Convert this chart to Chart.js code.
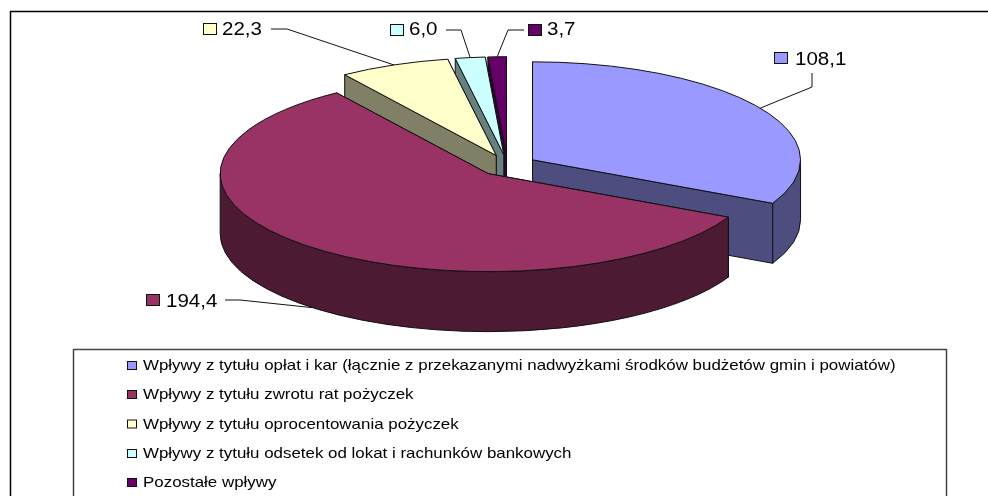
<!DOCTYPE html>
<html lang="pl">
<head>
    <meta charset="UTF-8">
    <title>Wpływy</title>
    <script src="https://cdn.jsdelivr.net/npm/chart.js"></script>
    <style>
        html, body { margin: 0; padding: 0; background: #fff; overflow: hidden; }
        canvas { display: block; }
    </style>
</head>
<body>
    <canvas id="pieChart" width="988" height="496"></canvas>
    <script>
        // Data
        var categories = [
            "Wpływy z tytułu opłat i kar (łącznie z przekazanymi nadwyżkami środków budżetów gmin i powiatów)",
            "Wpływy z tytułu zwrotu rat pożyczek",
            "Wpływy z tytułu oprocentowania pożyczek",
            "Wpływy z tytułu odsetek od lokat i rachunków bankowych",
            "Pozostałe wpływy"
        ];
        var seriesValues = [108.1, 194.4, 22.3, 6.0, 3.7];

        var sliceColors = ["#9999FF", "#993366", "#FFFFCC", "#CCFFFF", "#660066"];
        var wallColors = ["#4D4D80", "#4D1A33", "#808066", "#668080", "#330033"];

        // Look of the 3D pie
        var radiusX = 268;
        var radiusY = 98;
        var depth = 60;
        var explode = 0.11;
        var lineColor = "#111";
        var fontName = '"Liberation Sans", Arial, sans-serif';

        // Where the value labels and their leader lines sit
        var labelKeyX = [774, 146, 203, 390, 528];
        var labelKeyY = [52, 294, 23, 24, 24];
        var labelTextX = [795, 166, 222, 409, 547];
        var labelBaseline = [65, 307, 35, 35, 35];
        var leaderLines = [
            [[812, 73], [812, 87]],
            [[225, 300], [240, 300]],
            [[271, 29], [287, 29]],
            [[446, 30], [461, 30]],
            [[524, 30], [508, 30]]
        ];

        var legendBox = { left: 73.5, top: 349.5, right: 946.5 };
        var legendKeyX = 127.5;
        var legendTextX = 143;
        var legendBaselines = [370, 399, 428.5, 458, 487];

        function stretchedText(ctx, text, x, y, size, stretch) {
            ctx.save();
            ctx.translate(x, y);
            ctx.scale(stretch, 1);
            ctx.font = size + "px " + fontName;
            ctx.fillStyle = "#000";
            ctx.textBaseline = "alphabetic";
            ctx.fillText(text, 0, 0);
            ctx.restore();
        }

        // Centre of a slice once it is pulled out of the pie
        function sliceCentre(arc) {
            var mid = (arc.startAngle + arc.endAngle) / 2;
            return {
                x: arc.x + Math.cos(mid) * explode * radiusX,
                y: arc.y + Math.sin(mid) * explode * radiusY
            };
        }

        function edgeWall(ctx, c, angle) {
            var ex = c.x + Math.cos(angle) * radiusX;
            var ey = c.y + Math.sin(angle) * radiusY;
            ctx.beginPath();
            ctx.moveTo(c.x, c.y);
            ctx.lineTo(ex, ey);
            ctx.lineTo(ex, ey + depth);
            ctx.lineTo(c.x, c.y + depth);
            ctx.closePath();
            ctx.fill();
            ctx.stroke();
        }

        function drawSlice(ctx, arc, index) {
            var c = sliceCentre(arc);

            ctx.save();
            ctx.lineWidth = 1;
            ctx.lineJoin = "round";
            ctx.strokeStyle = lineColor;
            ctx.fillStyle = wallColors[index];
            // The edge that points further back goes first
            if (Math.sin(arc.startAngle) < Math.sin(arc.endAngle)) {
                edgeWall(ctx, c, arc.startAngle);
                edgeWall(ctx, c, arc.endAngle);
            } else {
                edgeWall(ctx, c, arc.endAngle);
                edgeWall(ctx, c, arc.startAngle);
            }

            // Curved part of the wall, only on the front half
            var from = Math.max(arc.startAngle, 0);
            var to = Math.min(arc.endAngle, Math.PI);
            if (to > from) {
                ctx.beginPath();
                ctx.ellipse(c.x, c.y, radiusX, radiusY, 0, from, to);
                ctx.ellipse(c.x, c.y + depth, radiusX, radiusY, 0, to, from, true);
                ctx.closePath();
                ctx.fill();
                ctx.stroke();
            }
            ctx.restore();

            // Top face: the library's own arc, squashed into an ellipse
            ctx.save();
            ctx.translate(c.x, c.y);
            ctx.scale(1, radiusY / radiusX);
            ctx.translate(-arc.x, -arc.y);
            arc.draw(ctx);
            ctx.restore();

            ctx.save();
            ctx.lineWidth = 1;
            ctx.strokeStyle = lineColor;
            ctx.beginPath();
            ctx.moveTo(c.x, c.y);
            ctx.ellipse(c.x, c.y, radiusX, radiusY, 0, arc.startAngle, arc.endAngle);
            ctx.closePath();
            ctx.stroke();
            ctx.restore();
        }

        var framePlugin = {
            id: "frame",
            beforeDraw: function (chart) {
                var ctx = chart.ctx;
                ctx.save();
                ctx.strokeStyle = "#000";
                ctx.lineWidth = 1.5;
                ctx.beginPath();
                ctx.moveTo(10.5, 500);
                ctx.lineTo(10.5, 11.5);
                ctx.lineTo(992, 11.5);
                ctx.stroke();
                ctx.restore();
            }
        };

        var pie3dPlugin = {
            id: "pie3d",
            beforeDatasetsDraw: function (chart) {
                var ctx = chart.ctx;
                var arcs = chart.getDatasetMeta(0).data;
                // Paint from the back of the pie to the front
                var order = arcs.map(function (arc, i) { return i; });
                order.sort(function (a, b) {
                    return Math.sin((arcs[a].startAngle + arcs[a].endAngle) / 2) -
                           Math.sin((arcs[b].startAngle + arcs[b].endAngle) / 2);
                });
                order.forEach(function (i) {
                    drawSlice(ctx, arcs[i], i);
                });
                return false;
            },
            afterDraw: function (chart) {
                var ctx = chart.ctx;
                var arcs = chart.getDatasetMeta(0).data;

                // Value labels with leader lines
                arcs.forEach(function (arc, i) {
                    var c = sliceCentre(arc);
                    var mid = (arc.startAngle + arc.endAngle) / 2;
                    var ax = c.x + Math.cos(mid) * radiusX;
                    var ay = c.y + Math.sin(mid) * radiusY;
                    if (Math.sin(mid) > 0) {
                        ay += depth;
                    }
                    ctx.save();
                    ctx.strokeStyle = lineColor;
                    ctx.lineWidth = 1;
                    ctx.beginPath();
                    ctx.moveTo(leaderLines[i][0][0], leaderLines[i][0][1]);
                    ctx.lineTo(leaderLines[i][1][0], leaderLines[i][1][1]);
                    ctx.lineTo(ax, ay);
                    ctx.stroke();

                    ctx.fillStyle = sliceColors[i];
                    ctx.fillRect(labelKeyX[i] + 0.5, labelKeyY[i] + 0.5, 13, 11);
                    ctx.strokeRect(labelKeyX[i] + 0.5, labelKeyY[i] + 0.5, 13, 11);
                    ctx.restore();

                    var label = seriesValues[i].toFixed(1).replace(".", ",");
                    stretchedText(ctx, label, labelTextX[i], labelBaseline[i], 18, 1.14);
                });

                // Legend box, runs off the bottom of the picture
                ctx.save();
                ctx.strokeStyle = "#444";
                ctx.lineWidth = 1.5;
                ctx.beginPath();
                ctx.moveTo(legendBox.left, 500);
                ctx.lineTo(legendBox.left, legendBox.top);
                ctx.lineTo(legendBox.right, legendBox.top);
                ctx.lineTo(legendBox.right, 500);
                ctx.stroke();
                ctx.restore();

                categories.forEach(function (name, i) {
                    var base = legendBaselines[i];
                    ctx.save();
                    ctx.fillStyle = sliceColors[i];
                    ctx.strokeStyle = lineColor;
                    ctx.lineWidth = 1;
                    ctx.fillRect(legendKeyX, base - 8.5, 9, 8);
                    ctx.strokeRect(legendKeyX, base - 8.5, 9, 8);
                    ctx.restore();
                    stretchedText(ctx, name, legendTextX, base, 15, 1.127);
                });
            }
        };

        var pieChart = new Chart(document.getElementById("pieChart").getContext("2d"), {
            type: "pie",
            data: {
                labels: categories,
                datasets: [{
                    data: seriesValues,
                    backgroundColor: sliceColors,
                    borderWidth: 0
                }]
            },
            options: {
                responsive: false,
                animation: false,
                radius: radiusX,
                layout: { padding: { left: 27, bottom: 165 } },
                plugins: {
                    legend: { display: false },
                    tooltip: { enabled: false }
                }
            },
            plugins: [framePlugin, pie3dPlugin]
        });
    </script>
</body>
</html>
